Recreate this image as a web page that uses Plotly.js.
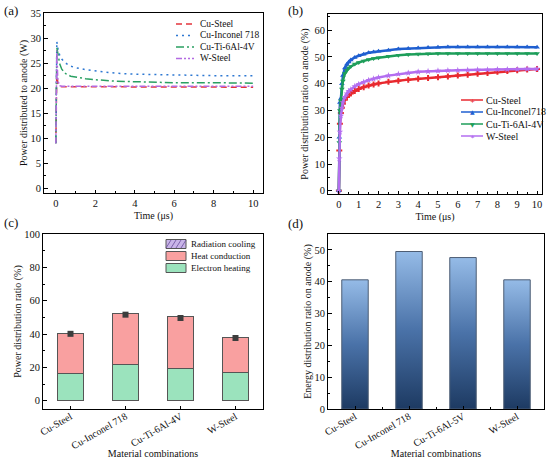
<!DOCTYPE html>
<html><head><meta charset="utf-8">
<script src="https://cdn.plot.ly/plotly-3.0.1.min.js"></script>
<style>html,body{margin:0;padding:0;background:#fff}#chart{width:550px;height:459px}</style>
</head><body><div id="chart"></div>
<script>
// ---------- Panel (a): power distributed to anode (W) ----------
const timeA = [0, 0.05, 0.1, 0.15, 0.2, 0.3, 0.5, 0.75, 1, 1.5, 2, 3, 4, 5, 6, 8, 10];
const powerCuSteel   = [9, 23.5, 20.9, 20.5, 20.4, 20.3, 20.3, 20.2, 20.2, 20.2, 20.2, 20.2, 20.2, 20.2, 20.2, 20.2, 20.2];
const powerCuInconel = [9, 29.3, 28.0, 27.2, 26.5, 25.8, 25.0, 24.4, 24.1, 23.7, 23.5, 23.0, 22.8, 22.7, 22.6, 22.5, 22.5];
const powerCuTi      = [9, 28.1, 27.0, 25.8, 24.8, 23.8, 22.9, 22.4, 22.2, 21.9, 21.7, 21.4, 21.3, 21.2, 21.1, 21.1, 21.0];
const powerWSteel    = [9, 27.5, 21.5, 20.7, 20.5, 20.4, 20.4, 20.4, 20.4, 20.4, 20.4, 20.4, 20.4, 20.4, 20.4, 20.4, 20.4];
const seriesNamesA = ['Cu-Steel', 'Cu-Inconel 718', 'Cu-Ti-6Al-4V', 'W-Steel'];

// ---------- Panel (b): power distribution ratio on anode (%) ----------
const timeB = [0, 0.02, 0.05, 0.1, 0.15, 0.2, 0.3, 0.4, 0.5, 0.6, 0.8, 1, 1.25, 1.5, 1.75, 2, 2.5, 3, 3.5, 4, 4.5, 5, 5.5, 6, 6.5, 7, 7.5, 8, 8.5, 9, 9.5, 10];
const ratioCuSteel   = [0, 15, 25, 29, 31, 32.5, 34, 35, 35.8, 36.3, 37.3, 38, 38.7, 39.3, 39.7, 40.1, 40.7, 41.1, 41.5, 41.8, 42.1, 42.4, 42.7, 43.0, 43.3, 43.7, 44.0, 44.4, 44.7, 45.0, 45.3, 45.5];
const ratioCuInconel = [0, 20, 33, 34.5, 40, 43, 45.8, 47.2, 48.1, 48.8, 49.8, 50.4, 51.0, 51.5, 51.8, 52.1, 52.5, 52.9, 53.1, 53.3, 53.5, 53.6, 53.7, 53.7, 53.7, 53.7, 53.7, 53.7, 53.7, 53.7, 53.7, 53.6];
const ratioCuTi      = [0, 18, 30, 33.5, 38, 41, 43.8, 45, 45.8, 46.4, 47.3, 47.9, 48.5, 49.0, 49.4, 49.7, 50.2, 50.6, 50.9, 51.1, 51.2, 51.3, 51.3, 51.3, 51.3, 51.3, 51.3, 51.3, 51.3, 51.3, 51.3, 51.3];
const ratioWSteel    = [0, 12, 22, 28, 31, 33, 35, 36.3, 37.2, 37.8, 39, 39.8, 40.6, 41.3, 41.8, 42.3, 43, 43.6, 44, 44.4, 44.6, 44.8, 44.9, 45, 45.1, 45.2, 45.2, 45.3, 45.3, 45.4, 45.5, 45.5];
const seriesNamesB = ['Cu-Steel', 'Cu-Inconel718', 'Cu-Ti-6Al-4V', 'W-Steel'];

// ---------- Panel (c): stacked power distribution ratio (%) ----------
const categoriesC = ['Cu-Steel', 'Cu-Inconel 718', 'Cu-Ti-6Al-4V', 'W-Steel'];
const radiationCooling = [0.3, 0.4, 0.4, 0.3];
const electronHeating  = [16.0, 21.6, 19.2, 16.8];
const heatConduction   = [24.0, 30.3, 31.0, 20.6];
const totalMarker      = [40.1, 51.6, 49.6, 37.6];

// ---------- Panel (d): energy distribution ratio on anode (%) ----------
const categoriesD = ['Cu-Steel', 'Cu-Inconel 718', 'Cu-Ti-6Al-5V', 'W-Steel'];
const energyRatio = [40.6, 49.5, 47.6, 40.6];

// ---------- styling ----------
const SERIF = 'Liberation Serif, Times New Roman, serif';
const W = 550, H = 459;
const px = v => v / W;
const py = v => 1 - v / H;
const colA = ['#e3343c', '#2e78d2', '#2aa062', '#b36ae2'];
const dashA = ['6px,4px', '2px,4px', '8px,3px,2px,3px', '6px,2px,2px,2px,2px,2px'];
const colB = ['#e8292f', '#1f5fd0', '#1e9e5a', '#b36ef0'];
const symB = ['cross', 'triangle-up', 'triangle-down', 'star'];

const traces = [];
const yA = [powerCuSteel, powerCuInconel, powerCuTi, powerWSteel];
yA.forEach((ys, i) => traces.push({
  type: 'scatter', mode: 'lines', x: timeA, y: ys, name: seriesNamesA[i],
  line: {color: colA[i], width: 1.5, dash: dashA[i]}, xaxis: 'x', yaxis: 'y', showlegend: false
}));
const yB = [ratioCuSteel, ratioCuInconel, ratioCuTi, ratioWSteel];
yB.forEach((ys, i) => traces.push({
  type: 'scatter', mode: 'lines+markers', x: timeB, y: ys, name: seriesNamesB[i],
  line: {color: colB[i], width: 2.5}, marker: {symbol: symB[i], size: 5, color: colB[i]},
  xaxis: 'x2', yaxis: 'y2', showlegend: false
}));
const barLine = {color: '#555', width: 1};
traces.push({type: 'bar', x: categoriesC, y: radiationCooling, name: 'Radiation cooling', width: 0.48,
  marker: {color: '#c8b4e8', line: barLine, pattern: {shape: '/', fgcolor: '#5a3d8a', bgcolor: '#c8b4e8', size: 4, solidity: 0.3}},
  xaxis: 'x3', yaxis: 'y3', showlegend: false});
traces.push({type: 'bar', x: categoriesC, y: electronHeating, name: 'Electron heating', width: 0.48,
  marker: {color: '#9be3bd', line: barLine}, xaxis: 'x3', yaxis: 'y3', showlegend: false});
traces.push({type: 'bar', x: categoriesC, y: heatConduction, name: 'Heat conduction', width: 0.48,
  marker: {color: '#f9a0a0', line: barLine}, xaxis: 'x3', yaxis: 'y3', showlegend: false});
traces.push({type: 'scatter', mode: 'markers', x: categoriesC, y: totalMarker, name: 'Total',
  marker: {symbol: 'square', size: 6, color: '#3d3d3d'}, xaxis: 'x3', yaxis: 'y3', showlegend: false});

// gradient-filled bars for (d), built from the data through the axis scales
const barW = 0.49;
energyRatio.forEach((v, i) => traces.push({
  type: 'scatter', mode: 'lines', name: categoriesD[i],
  x: [i - barW / 2, i - barW / 2, i + barW / 2, i + barW / 2, i - barW / 2],
  y: [0, v, v, 0, 0], fill: 'toself',
  fillgradient: {type: 'vertical', start: 0, stop: v,
    colorscale: [[0, '#1d3a62'], [0.5, '#4a72a8'], [1, '#95bbe7']]},
  line: {color: '#4d5d74', width: 1}, xaxis: 'x4', yaxis: 'y4', showlegend: false
}));

const tickfont = {family: SERIF, size: 10.5, color: '#111'};
const catfont = {family: SERIF, size: 10, color: '#111'};
const titlefont = {family: SERIF, size: 10, color: '#111'};
function ax(o) {
  return Object.assign({
    showline: true, linecolor: '#000', linewidth: 1, mirror: true,
    ticks: 'inside', ticklen: 3.5, tickwidth: 1, tickcolor: '#000',
    showgrid: false, zeroline: false, automargin: false, tickfont: tickfont
  }, o);
}
function minor(d) { return {dtick: d, ticks: 'inside', ticklen: 2, tickcolor: '#000', showgrid: false}; }

const layout = {
  width: W, height: H, margin: {l: 0, r: 0, t: 0, b: 0},
  paper_bgcolor: '#fff', plot_bgcolor: '#fff', barmode: 'stack', showlegend: false,
  font: {family: SERIF, color: '#111'},
  xaxis: ax({domain: [px(44), px(263)], anchor: 'y', range: [-0.6, 10.5], dtick: 2, tick0: 0, minor: minor(1),
    title: {text: 'Time (μs)', font: titlefont, standoff: 4}}),
  yaxis: ax({domain: [py(193), py(13)], anchor: 'x', range: [-0.9, 35], dtick: 5, tick0: 0, minor: minor(2.5),
    title: {text: 'Power distributed to anode (W)', font: titlefont, standoff: 0}}),
  xaxis2: ax({domain: [px(328), px(542)], anchor: 'y2', range: [-0.55, 10.25], dtick: 1, tick0: 0, minor: minor(0.5),
    title: {text: 'Time (μs)', font: titlefont, standoff: 4}}),
  yaxis2: ax({domain: [py(194), py(14)], anchor: 'x2', range: [-1.2, 66], dtick: 10, tick0: 0, minor: minor(5),
    title: {text: 'Power distribution ratio on anode (%)', font: titlefont, standoff: 3}}),
  xaxis3: ax({domain: [px(43), px(263)], anchor: 'y3', type: 'category', range: [-0.5, 3.5], tickangle: -30,
    ticklabelstandoff: -3, tickfont: catfont,
    title: {text: 'Material combinations', font: titlefont, standoff: 1}}),
  yaxis3: ax({domain: [py(409), py(234)], anchor: 'x3', range: [-5, 100], dtick: 20, tick0: 0, minor: minor(10),
    title: {text: 'Power distribution ratio (%)', font: titlefont, standoff: 0}}),
  xaxis4: ax({domain: [px(328), px(544)], anchor: 'y4', range: [-0.5, 3.5], tickvals: [0, 1, 2, 3], ticktext: categoriesD,
    tickangle: -30, ticklabelstandoff: -3, tickfont: catfont, minor: {tickvals: [0.5, 1.5, 2.5], ticks: 'inside', ticklen: 2},
    title: {text: 'Material combinations', font: titlefont, standoff: 1}}),
  yaxis4: ax({domain: [py(409), py(234)], anchor: 'x4', range: [0, 55], dtick: 10, tick0: 0, minor: minor(5),
    title: {text: 'Energy distribution ratio on anode (%)', font: titlefont, standoff: 0}}),
  shapes: [], annotations: []
};

function legText(x, y, text, size) {
  layout.annotations.push({xref: 'paper', yref: 'paper', x: px(x), y: py(y), xanchor: 'left', yanchor: 'middle',
    text: text, showarrow: false, font: {family: SERIF, size: size, color: '#111'}});
}
// legend (a)
const rowsA = [24, 35.5, 47, 58.5];
seriesNamesA.forEach((n, i) => {
  layout.shapes.push({type: 'line', xref: 'paper', yref: 'paper', x0: px(176), x1: px(194), y0: py(rowsA[i]), y1: py(rowsA[i]),
    line: {color: colA[i], width: 1.5, dash: dashA[i]}});
  legText(198, rowsA[i], n, 9.5);
});
// legend (b)
const rowsB = [100, 112, 124, 136];
const glyphB = ['+', '▲', '▼', '✶'];
seriesNamesB.forEach((n, i) => {
  layout.shapes.push({type: 'line', xref: 'paper', yref: 'paper', x0: px(461), x1: px(483), y0: py(rowsB[i]), y1: py(rowsB[i]),
    line: {color: colB[i], width: 1.5}});
  layout.annotations.push({xref: 'paper', yref: 'paper', x: px(472), y: py(rowsB[i]), xanchor: 'center', yanchor: 'middle',
    text: glyphB[i], showarrow: false, font: {family: 'DejaVu Sans', size: 6, color: colB[i]}});
  legText(484, rowsB[i], n, 10);
});
// legend (c)
const legC = [['Radiation cooling', '#c8b4e8'], ['Heat conduction', '#f9a0a0'], ['Electron heating', '#9be3bd']];
const rowsC = [244, 256, 268];
legC.forEach((e, i) => {
  layout.shapes.push({type: 'rect', xref: 'paper', yref: 'paper', x0: px(166), x1: px(186), y0: py(rowsC[i] - 4.5), y1: py(rowsC[i] + 4.5),
    fillcolor: e[1], line: {color: '#555', width: 1}});
  legText(189, rowsC[i], e[0], 9);
});
// hatch in the radiation cooling key
[170, 175, 180, 185].forEach(x0 => {
  layout.shapes.push({type: 'line', xref: 'paper', yref: 'paper', x0: px(x0 - 4), x1: px(x0 + 1), y0: py(rowsC[0] + 4), y1: py(rowsC[0] - 4),
    line: {color: '#6a4d9a', width: 0.8}});
});
// panel labels
[['(a)', 11, 11], ['(b)', 295, 11], ['(c)', 11, 222], ['(d)', 295, 223]].forEach(p => {
  layout.annotations.push({xref: 'paper', yref: 'paper', x: px(p[1]), y: py(p[2]), xanchor: 'center', yanchor: 'middle',
    text: p[0], showarrow: false, font: {family: SERIF, size: 13, color: '#111'}});
});

Plotly.newPlot('chart', traces, layout, {staticPlot: true, displayModeBar: false});
</script></body></html>
